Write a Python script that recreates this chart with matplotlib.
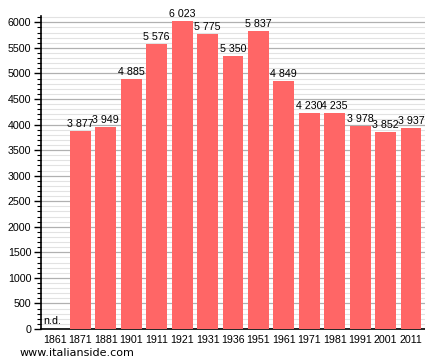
import matplotlib.pyplot as plt
from matplotlib.ticker import MultipleLocator

plt.rcParams['font.family'] = ['Liberation Sans', 'DejaVu Sans']

years = ["1861", "1871", "1881", "1901", "1911", "1921", "1931", "1936",
         "1951", "1961", "1971", "1981", "1991", "2001", "2011"]
population = [None, 3877, 3949, 4885, 5576, 6023, 5775, 5350,
              5837, 4849, 4230, 4235, 3978, 3852, 3937]

fig = plt.figure(figsize=(4.25, 3.63), dpi=100)
ax = fig.add_axes([0.0965, 0.0937, 0.9035, 0.8630])

x = range(len(years))
heights = [v if v is not None else 0 for v in population]
ax.bar(x, heights, width=0.82, color="#ff6666", zorder=3)

fs = 7.7
for i, v in enumerate(population):
    if v is None:
        ax.text(i - 0.47, 50, "n.d.", fontsize=fs, ha="left", va="bottom", zorder=4)
    else:
        lbl = f"{v:,}".replace(",", " ")
        ax.text(i, v + 40, lbl, fontsize=fs, ha="center", va="bottom", zorder=4)

ax.set_xlim(-0.55, len(years) - 0.45)
ax.set_ylim(0, 6130)
ax.set_xticks(list(x))
ax.set_xticklabels(years, fontsize=fs)
ax.tick_params(axis="x", length=0, pad=4)

ax.yaxis.set_major_locator(MultipleLocator(500))
ax.yaxis.set_minor_locator(MultipleLocator(100))
ax.tick_params(axis="y", which="major", length=5, width=1, labelsize=fs, pad=2)
ax.tick_params(axis="y", which="minor", length=3, width=0.8)
ax.grid(axis="y", which="major", color="#b0b0b0", linewidth=0.9, zorder=1)
ax.grid(axis="y", which="minor", color="#e2e2e2", linewidth=0.8, zorder=0)

for s in ["top", "right"]:
    ax.spines[s].set_visible(False)
ax.spines["left"].set_linewidth(1.2)
ax.spines["bottom"].set_linewidth(1.2)

fig.text(0.045, 0.015, "www.italianside.com", fontsize=8, ha="left", va="bottom",
         family="DejaVu Sans")

fig.savefig("out.png", dpi=100)
